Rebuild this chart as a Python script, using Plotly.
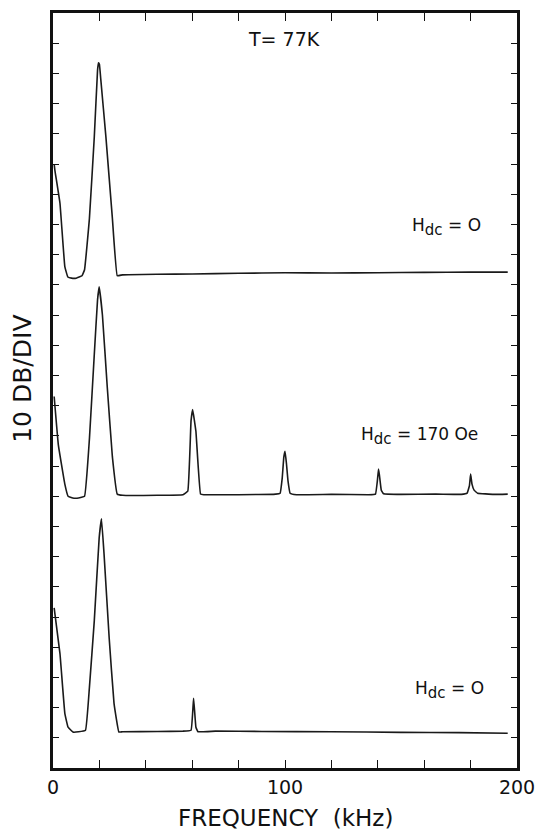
import plotly.graph_objects as go

# Frequency (kHz) and level (in divisions of 10 dB on the common vertical scale)
top_freq = [0.5, 0.8, 3.0, 5.1, 6.4, 8.0, 10.0, 12.5, 13.6, 15.7, 17.8, 19.2, 19.6, 20.0, 20.6, 22.8, 25.6, 27.7,
            30, 45, 60, 80, 100, 120, 140, 160, 180, 196]
top_level = [20.0, 19.8, 18.7, 16.6, 16.26, 16.22, 16.22, 16.3, 16.5, 18.2, 20.9, 23.1, 23.35, 23.3, 22.8, 20.9, 18.2, 16.3,
             16.33, 16.35, 16.36, 16.38, 16.4, 16.39, 16.4, 16.41, 16.42, 16.42]

mid_freq = [0.5, 2.3, 5.1, 6.5, 8.5, 11.0, 13.6, 15.7, 17.8, 19.2, 19.9, 21.3, 23.4, 25.6, 27.7,
            30, 45, 56, 58.1, 59.5, 60.2, 61.6, 63.6, 65, 80, 96,
            97.9, 98.8, 99.5, 100.0, 100.6, 101.3, 102.2, 105, 120, 136,
            139.0, 139.8, 140.3, 140.7, 141.5, 142.5, 150, 165, 176,
            178.5, 179.5, 180.0, 180.6, 181.5, 183.0, 190, 196]
mid_level = [12.3, 10.7, 9.4, 9.0, 8.94, 8.94, 9.0, 10.9, 13.7, 15.5, 15.93, 15.0, 12.6, 10.3, 9.07,
             9.03, 9.03, 9.05, 9.17, 11.5, 11.87, 11.15, 9.07, 9.05, 9.05, 9.07,
             9.1, 9.6, 10.3, 10.49, 10.1, 9.5, 9.1, 9.05, 9.06, 9.05,
             9.07, 9.5, 9.9, 9.7, 9.2, 9.08, 9.06, 9.07, 9.06,
             9.1, 9.35, 9.73, 9.4, 9.2, 9.1, 9.06, 9.07]

bot_freq = [0.5, 3.0, 5.1, 6.5, 8.6, 11.0, 14.0, 15.7, 17.8, 19.9, 20.9, 22.0, 24.2, 26.3, 28.4,
            30, 45, 56, 59.5, 60.6, 61.6, 62.5, 70, 90, 120, 150, 175, 196]
bot_level = [5.3, 3.79, 1.81, 1.35, 1.19, 1.2, 1.25, 2.67, 4.88, 7.62, 8.25, 7.09, 4.32, 2.14, 1.19,
             1.2, 1.21, 1.22, 1.25, 2.31, 1.35, 1.2, 1.22, 1.21, 1.2, 1.18, 1.17, 1.15]

x_tick_vals = [0, 20, 40, 60, 80, 100, 120, 140, 160, 180, 200]
x_tick_text = ["0", "", "", "", "", "100", "", "", "", "", "200"]
y_tick_vals = list(range(0, 26))

SUB = "H<sub><span style='font-size:15px'>dc</span></sub>"
labels = ["T= 77K", SUB + " = O", SUB + " = 170 Oe", SUB + " = O"]
label_x = [99.6, 169.5, 158.0, 170.8]
label_y = [24.14, 17.9, 10.98, 2.57]

FONT = "DejaVu Sans"

fig = go.Figure()
for fx, fy in [(top_freq, top_level), (mid_freq, mid_level), (bot_freq, bot_level)]:
    fig.add_trace(go.Scatter(x=fx, y=fy, mode="lines",
                             line=dict(color="#1a1a1a", width=1.6, shape="spline", smoothing=0.25),
                             showlegend=False, hoverinfo="skip"))

for i, (t, x, y) in enumerate(zip(labels, label_x, label_y)):
    fig.add_annotation(x=x, y=y, text=t, showarrow=False, xanchor="center", yanchor="middle",
                       font=dict(family=FONT, size=19 if i == 0 else 17, color="#111"))

fig.add_annotation(xref="paper", yref="paper", x=-0.066, y=0.516, text="10 DB/DIV", textangle=-90,
                   showarrow=False, xanchor="center", yanchor="middle",
                   font=dict(family=FONT, size=25, color="#111"))
fig.add_annotation(xref="paper", yref="paper", x=0.5, y=-0.066, text="FREQUENCY  (kHz)",
                   showarrow=False, xanchor="center", yanchor="middle",
                   font=dict(family=FONT, size=23, color="#111"))

fig.update_xaxes(range=[0, 200], tickvals=x_tick_vals, ticktext=x_tick_text, ticks="inside", ticklen=8,
                 tickwidth=1.2, tickcolor="#111", showline=True, linecolor="#111", linewidth=2.5,
                 mirror="allticks", showgrid=False, zeroline=False,
                 tickfont=dict(family=FONT, size=19, color="#111"))
fig.update_yaxes(range=[0, 25], tickvals=y_tick_vals, showticklabels=False, ticks="inside", ticklen=6,
                 tickwidth=1.2, tickcolor="#111", showline=True, linecolor="#111", linewidth=2.5,
                 mirror="allticks", showgrid=False, zeroline=False)

fig.update_layout(width=545, height=835, margin=dict(l=53, r=20, t=10, b=67),
                  plot_bgcolor="white", paper_bgcolor="white")

fig.write_html("out.html")
